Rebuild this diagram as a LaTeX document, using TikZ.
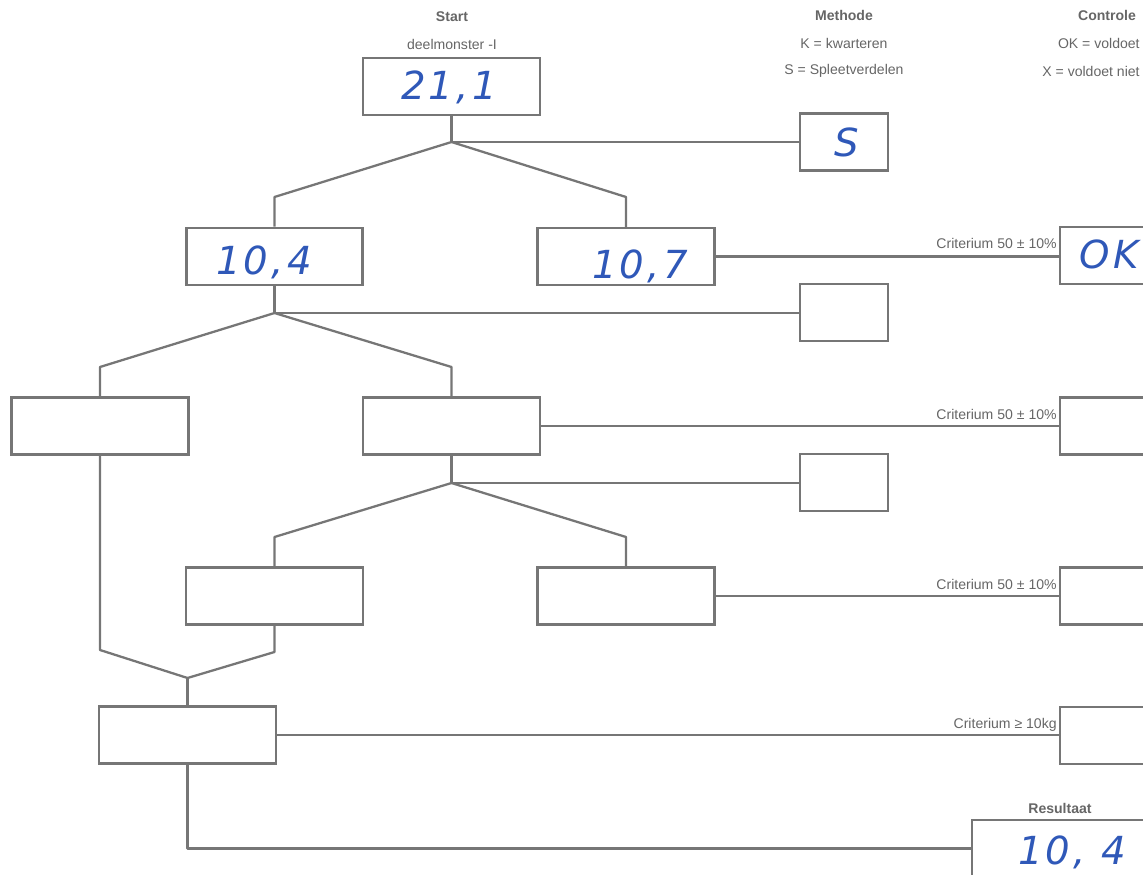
\documentclass[tikz,border=0pt]{standalone}
\usepackage{fontspec}
\setmainfont{Liberation Sans}
\newfontfamily\handfont[LetterSpace=8]{DejaVu Sans}
\definecolor{ln}{HTML}{767676}
\definecolor{txt}{HTML}{666666}
\definecolor{ink}{HTML}{2F58B8}
\begin{document}
\begin{tikzpicture}[x=0.02cm,y=-0.02cm,
  box/.style={draw=ln,line width=1.3pt,minimum width=3.54cm,minimum height=1.14cm,inner sep=0pt},
  sbox/.style={draw=ln,line width=1.3pt,minimum width=1.76cm,minimum height=1.14cm,inner sep=0pt},
  conn/.style={draw=ln,line width=1.3pt,line join=round},
  lbl/.style={text=txt,font=\fontsize{8}{9}\selectfont,inner sep=0pt},
  hd/.style={text=txt,font=\fontsize{8}{9}\selectfont\bfseries,inner sep=0pt},
  hand/.style={text=ink,font=\handfont\itshape\fontsize{22}{24}\selectfont,inner sep=0pt}]
\useasboundingbox (0,0) rectangle (1143,875);
\clip (0,0) rectangle (1143,875);

% headers
\node[hd] (hstart) at (452,17) {Start};
\node[lbl] (hdeel) at (452,44) {deelmonster -I};
\node[hd] (hmeth) at (844,15) {Methode};
\node[lbl] (hk) at (844,43) {K = kwarteren};
\node[lbl] (hs) at (844,71) {S = Spleetverdelen};
\node[hd] (hcon) at (1107,15) {Controle};
\node[lbl,anchor=east] (hok) at (1140,43) {OK = voldoet};
\node[lbl,anchor=east] (hx) at (1140,71) {X = voldoet niet};

% boxes
\node[box] (top) at (451.5,86.5) {};
\node[sbox] (S) at (844,142) {};
\node[box,line width=1.7pt] (b104) at (274.5,256.5) {};
\node[box] (b107) at (626,256.5) {};
\node[sbox] (c1) at (1104,255.5) {};
\node[sbox] (m2) at (844,312.5) {};
\node[box] (l3a) at (100,426) {};
\node[box] (l3b) at (451.5,426) {};
\node[sbox] (c2) at (1104,426) {};
\node[sbox] (m3) at (844,482.5) {};
\node[box] (l4a) at (274.5,596) {};
\node[box] (l4b) at (626,596) {};
\node[sbox] (c3) at (1104,596) {};
\node[box] (l5) at (187.5,735) {};
\node[sbox] (c4) at (1104,735.5) {};
\node[box] (res) at (1060.5,848.5) {};

% handwritten values
\node[hand] (v1) at (449,87) {21,1};
\node[hand] (v2) at (847,142) {S};
\node[hand] (v3) at (264,262) {10,4};
\node[hand] (v4) at (640,266) {10,7};
\node[hand] (v5) at (1109,254) {OK};
\node[hand] (v6) at (1072,852) {10, 4};

% junction coordinates
\coordinate (j1) at (451.5,142);
\coordinate (j1l) at (274.5,197);
\coordinate (j1r) at (626,197);
\coordinate (j2) at (274.5,313);
\coordinate (j2l) at (100,367);
\coordinate (j2r) at (451.5,367);
\coordinate (j3) at (451.5,483);
\coordinate (j3l) at (274.5,537);
\coordinate (j3r) at (626,537);
\coordinate (mL) at (100,650);
\coordinate (mR) at (274.5,652);
\coordinate (mg) at (187.5,678);
\coordinate (rc) at (187.5,848.5);

% connectors
\draw[conn] (top.south) -- (j1) -- (j1 -| S.west);
\draw[conn] (b104.north) -- (j1l) -- (j1) -- (j1r) -- (b107.north);
\draw[conn] (b107.east) -- (b107.east -| c1.west);
\draw[conn] (b104.south) -- (j2) -- (j2 -| m2.west);
\draw[conn] (l3a.north) -- (j2l) -- (j2) -- (j2r) -- (l3b.north);
\draw[conn] (l3b.east) -- (l3b.east -| c2.west);
\draw[conn] (l3b.south) -- (j3) -- (j3 -| m3.west);
\draw[conn] (l4a.north) -- (j3l) -- (j3) -- (j3r) -- (l4b.north);
\draw[conn] (l4b.east) -- (l4b.east -| c3.west);
\draw[conn] (l3a.south) -- (mL) -- (mg) -- (mR) -- (l4a.south);
\draw[conn] (mg) -- (l5.north);
\draw[conn] (l5.east) -- (l5.east -| c4.west);
\draw[conn] (l5.south) -- (rc) -- (rc -| res.west);

% criteria labels
\node[lbl,anchor=base east] (k1) at (1057,248) {Criterium 50 ± 10\%};
\node[lbl,anchor=base east] (k2) at (1057,419) {Criterium 50 ± 10\%};
\node[lbl,anchor=base east] (k3) at (1057,589) {Criterium 50 ± 10\%};
\node[lbl,anchor=base east] (k4) at (1057,728) {Criterium ≥ 10kg};
\node[hd] (kres) at (1060,808) {Resultaat};
\end{tikzpicture}
\end{document}
